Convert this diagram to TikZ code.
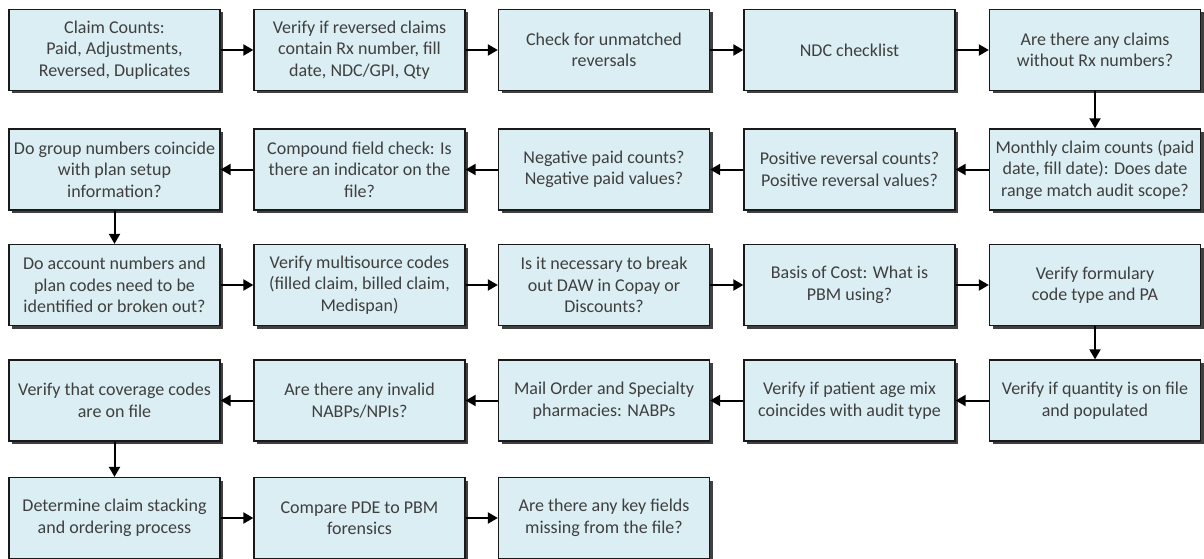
\documentclass[tikz,border=0pt]{standalone}
\usepackage{fontspec}
\setmainfont{Carlito}
\usetikzlibrary{shadows,arrows.meta}
\definecolor{boxfill}{HTML}{DBEEF4}
\definecolor{txt}{HTML}{3F3F3F}
\tikzset{
  stepbox/.style={draw=black!90, line width=1.3pt, fill=boxfill, rectangle,
    minimum width=211pt, minimum height=81pt, inner sep=2pt,
    align=center, text=txt, font=\fontsize{18}{21.5}\selectfont,
    drop shadow={shadow xshift=3pt, shadow yshift=-3pt, fill=black!75, opacity=1}},
  flow/.style={line width=2pt, -{Triangle[length=10pt,width=11pt]}}
}
\begin{document}
\begin{tikzpicture}[x=1pt,y=1pt]
\useasboundingbox (0,0) rectangle (1204,-559);
% row 1
\node[stepbox] (a1) at (114.5,-50) {Claim Counts:\\Paid, Adjustments,\\Reversed, Duplicates};
\node[stepbox] (a2) at (359.5,-50) {Verify if reversed claims\\contain Rx number, fill\\date, NDC/GPI, Qty};
\node[stepbox] (a3) at (604,-50) {Check for unmatched\\reversals};
\node[stepbox] (a4) at (849.5,-50) {NDC checklist};
\node[stepbox] (a5) at (1095,-50) {Are there any claims\\without Rx numbers?};
% row 2
\node[stepbox] (b5) at (1095,-169.5) {Monthly claim counts (paid\\date, fill date): Does date\\range match audit scope?};
\node[stepbox] (b4) at (849.5,-169.5) {Positive reversal counts?\\Positive reversal values?};
\node[stepbox] (b3) at (604,-169.5) {Negative paid counts?\\Negative paid values?};
\node[stepbox] (b2) at (359.5,-169.5) {Compound field check: Is\\there an indicator on the\\file?};
\node[stepbox] (b1) at (114.5,-169.5) {Do group numbers coincide\\with plan setup\\information?};
% row 3
\node[stepbox] (c1) at (114.5,-285) {Do account numbers and\\plan codes need to be\\identified or broken out?};
\node[stepbox] (c2) at (359.5,-285) {Verify multisource codes\\(filled claim, billed claim,\\Medispan)};
\node[stepbox] (c3) at (604,-285) {Is it necessary to break\\out DAW in Copay or\\Discounts?};
\node[stepbox] (c4) at (849.5,-285) {Basis of Cost: What is\\PBM using?};
\node[stepbox] (c5) at (1095,-285) {Verify formulary\\code type and PA};
% row 4
\node[stepbox] (d5) at (1095,-400.5) {Verify if quantity is on file\\and populated};
\node[stepbox] (d4) at (849.5,-400.5) {Verify if patient age mix\\coincides with audit type};
\node[stepbox] (d3) at (604,-400.5) {Mail Order and Specialty\\pharmacies: NABPs};
\node[stepbox] (d2) at (359.5,-400.5) {Are there any invalid\\NABPs/NPIs?};
\node[stepbox] (d1) at (114.5,-400.5) {Verify that coverage codes\\are on file};
% row 5
\node[stepbox] (e1) at (114.5,-518) {Determine claim stacking\\and ordering process};
\node[stepbox] (e2) at (359.5,-518) {Compare PDE to PBM\\forensics};
\node[stepbox] (e3) at (604,-518) {Are there any key fields\\missing from the file?};
% connectors
\draw[flow] (a1) -- (a2);
\draw[flow] (a2) -- (a3);
\draw[flow] (a3) -- (a4);
\draw[flow] (a4) -- (a5);
\draw[flow] (a5) -- (b5);
\draw[flow] (b5) -- (b4);
\draw[flow] (b4) -- (b3);
\draw[flow] (b3) -- (b2);
\draw[flow] (b2) -- (b1);
\draw[flow] (b1) -- (c1);
\draw[flow] (c1) -- (c2);
\draw[flow] (c2) -- (c3);
\draw[flow] (c3) -- (c4);
\draw[flow] (c4) -- (c5);
\draw[flow] (c5) -- (d5);
\draw[flow] (d5) -- (d4);
\draw[flow] (d4) -- (d3);
\draw[flow] (d3) -- (d2);
\draw[flow] (d2) -- (d1);
\draw[flow] (d1) -- (e1);
\draw[flow] (e1) -- (e2);
\draw[flow] (e2) -- (e3);
\end{tikzpicture}
\end{document}
